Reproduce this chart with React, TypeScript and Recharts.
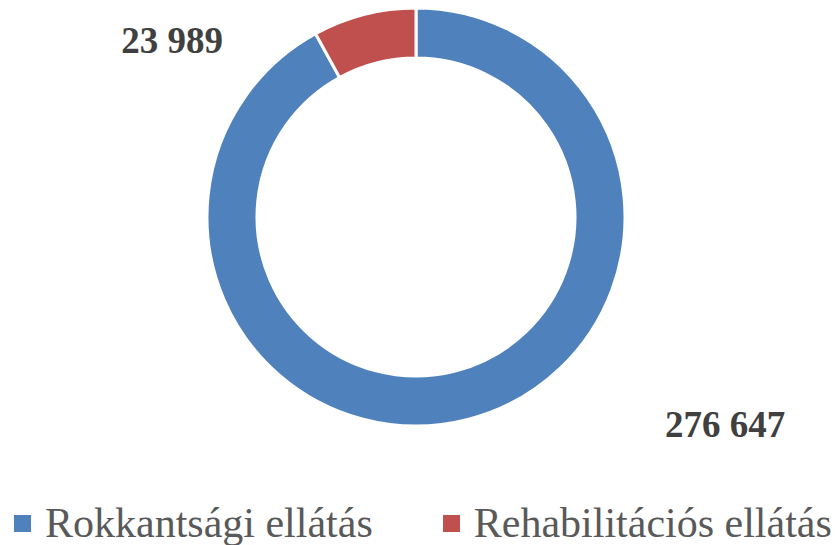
import { Pie, PieChart, Cell, Legend } from "recharts";

const CATEGORIES = ["Rokkantsági ellátás", "Rehabilitációs ellátás"];
const VALUES = [276647, 23989];
const VALUE_LABELS = ["276 647", "23 989"];

const COLORS = ["#4f81bd", "#c0504d"];
// offset of each value label from the pie centre (Excel-style placement)
const LABEL_OFFSETS = [
  { dx: 309, dy: 207 },
  { dx: -244, dy: -177 },
];

const data = CATEGORIES.map((name, i) => ({ name, value: VALUES[i] }));

const renderLabel = (props: any) => {
  const { cx, cy, index } = props;
  const off = LABEL_OFFSETS[index];
  return (
    <text
      x={cx + off.dx}
      y={cy + off.dy}
      textAnchor="middle"
      dominantBaseline="central"
      fill="#404040"
      fontFamily="'Liberation Serif', 'Times New Roman', serif"
      fontWeight="bold"
      fontSize={37}
    >
      {VALUE_LABELS[index]}
    </text>
  );
};

const renderLegend = () => (
  <div
    style={{
      display: "flex",
      alignItems: "center",
      fontFamily: "'Liberation Serif', 'Times New Roman', serif",
      fontSize: 42,
      color: "#595959",
      whiteSpace: "nowrap",
    }}
  >
    {CATEGORIES.map((name, i) => (
      <div key={name} style={{ display: "flex", alignItems: "center", marginRight: i === 0 ? 70 : 0 }}>
        <span
          style={{
            display: "inline-block",
            width: 17,
            height: 17,
            background: COLORS[i],
            marginRight: 14,
          }}
        />
        <span>{name}</span>
      </div>
    ))}
  </div>
);

export default function App() {
  return (
    <div style={{ position: "absolute", left: 0, top: 0, background: "#fff" }}>
      <PieChart width={835} height={545} margin={{ top: 0, right: 0, bottom: 0, left: 0 }}>
        <Pie
          data={data}
          dataKey="value"
          nameKey="name"
          cx={416}
          cy={217}
          innerRadius={159}
          outerRadius={209}
          startAngle={90}
          endAngle={-270}
          stroke="#ffffff"
          strokeWidth={3}
          labelLine={false}
          label={renderLabel}
          isAnimationActive={false}
        >
          {data.map((entry, index) => (
            <Cell key={`cell-${index}`} fill={COLORS[index % COLORS.length]} />
          ))}
        </Pie>
        <Legend
          content={renderLegend}
          layout="horizontal"
          verticalAlign="bottom"
          wrapperStyle={{ top: 499, bottom: "auto", left: 14, width: 835 }}
        />
      </PieChart>
    </div>
  );
}
